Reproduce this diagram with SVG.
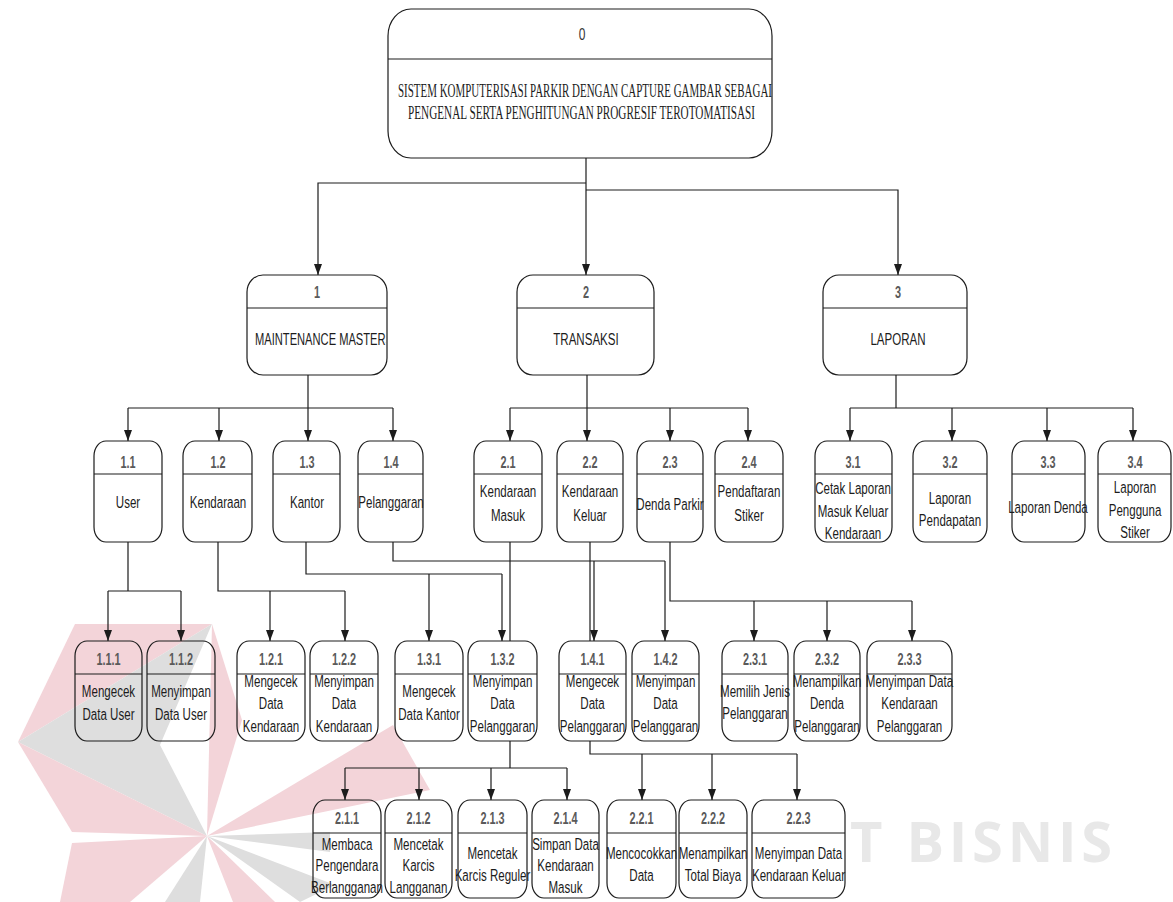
<svg xmlns="http://www.w3.org/2000/svg" width="1173" height="902" viewBox="0 0 1173 902">
  <defs>
    <style>
      .box{fill:none;stroke:#1c1c1c;stroke-width:1.2}
      .div{stroke:#1c1c1c;stroke-width:1.2}
      .ln{fill:none;stroke:#1c1c1c;stroke-width:1.2}
      .ar{fill:none;stroke:#1c1c1c;stroke-width:1.2;marker-end:url(#ah)}
      .num{font-family:"Liberation Sans",Arial,sans-serif;font-size:16px;font-weight:bold;fill:#5a5a5a;text-anchor:middle}
      .lbl{font-family:"Liberation Sans",Arial,sans-serif;font-size:17px;fill:#1c1c1c;text-anchor:middle}
      .ttl{font-family:"Liberation Serif","Times New Roman",serif;font-size:18px;fill:#1c1c1c}
      .zero{font-family:"Liberation Sans",Arial,sans-serif;font-size:16px;fill:#333;text-anchor:middle}
      .pk{fill:#f3d4d9}
      .gy{fill:#dedede}
    </style>
    <marker id="ah" viewBox="0 0 11 8" refX="11" refY="4" markerWidth="11" markerHeight="8" markerUnits="userSpaceOnUse" orient="auto">
      <path d="M0,0 L11,4 L0,8 z" fill="#1c1c1c"/>
    </marker>
    <clipPath id="clip1"><rect x="248" y="276" width="138" height="98"/></clipPath>
  </defs>

  <rect width="1173" height="902" fill="#ffffff"/>

  <!-- background watermark logo -->
  <g id="watermark">
    <polygon class="pk" points="75,624 212,624 18,742"/>
    <polygon class="gy" points="212,624 18,742 207,836 160,745"/>
    <polygon class="pk" points="212,624 242,720 207,836"/>
    <polygon class="pk" points="207,836 393,725 430,790"/>
    <polygon class="gy" points="207,836 330,832 330,852"/>
    <polygon class="pk" points="18,742 207,836 72,832"/>
    <polygon class="pk" points="72,843 207,836 130,902 60,902"/>
    <polygon class="gy" points="207,836 165,902 200,902"/>
    <polygon class="pk" points="207,836 233,902 275,902"/>
    <polygon class="gy" points="207,836 300,902 335,885"/>
    <text x="850" y="862" textLength="262" font-family="'Open Sans','Liberation Sans',sans-serif" font-size="56" font-weight="bold" fill="#e8e8e8">T BISNIS</text>
  </g>

  <!-- connectors -->
  <g id="connectors">
    <path class="ar" d="M586,158 V275"/>
    <path class="ar" d="M586,183 H318 V275"/>
    <path class="ar" d="M586,190 H898 V275"/>

    <path class="ln" d="M308,375 V408"/>
    <path class="ln" d="M128,408 H393"/>
    <path class="ar" d="M128,408 V441"/>
    <path class="ar" d="M219,408 V441"/>
    <path class="ar" d="M308,408 V441"/>
    <path class="ar" d="M393,408 V441"/>

    <path class="ar" d="M587,375 V441"/>
    <path class="ln" d="M510,408 H748"/>
    <path class="ar" d="M510,408 V441"/>
    <path class="ar" d="M670,408 V441"/>
    <path class="ar" d="M748,408 V441"/>

    <path class="ln" d="M896,375 V408"/>
    <path class="ln" d="M850,408 H1133"/>
    <path class="ar" d="M850,408 V441"/>
    <path class="ar" d="M952,408 V441"/>
    <path class="ar" d="M1047,408 V441"/>
    <path class="ar" d="M1133,408 V441"/>

    <path class="ln" d="M128,542 V591 M108,591 H181"/>
    <path class="ar" d="M108,591 V641"/>
    <path class="ar" d="M181,591 V641"/>

    <path class="ln" d="M218,542 V591 H345"/>
    <path class="ar" d="M270,591 V641"/>
    <path class="ar" d="M345,591 V641"/>

    <path class="ln" d="M306,542 V574 H502"/>
    <path class="ar" d="M429,574 V641"/>
    <path class="ar" d="M502,574 V641"/>

    <path class="ln" d="M393,542 V561 H665"/>
    <path class="ar" d="M594,561 V641"/>
    <path class="ar" d="M665,561 V641"/>

    <path class="ln" d="M510,542 V641 M510,741 V768 M345,768 H567"/>
    <path class="ar" d="M345,768 V800"/>
    <path class="ar" d="M419,768 V800"/>
    <path class="ar" d="M491,768 V800"/>
    <path class="ar" d="M567,768 V800"/>

    <path class="ln" d="M590,542 V641 M590,741 V754 H797"/>
    <path class="ar" d="M642,754 V800"/>
    <path class="ar" d="M712,754 V800"/>
    <path class="ar" d="M797,754 V800"/>

    <path class="ln" d="M670,542 V601 H912"/>
    <path class="ar" d="M754,601 V641"/>
    <path class="ar" d="M827,601 V641"/>
    <path class="ar" d="M912,601 V641"/>
  </g>

  <!-- level 0 -->
  <g id="node-0">
    <rect class="box" x="388" y="9" width="384" height="149" rx="23" ry="27"/>
    <line class="div" x1="388" y1="59" x2="772" y2="59"/>
    <g transform="translate(582 0) scale(.75 1)"><text class="zero" x="0" y="40">0</text></g>
    <text class="ttl" x="398" y="97" textLength="374" lengthAdjust="spacingAndGlyphs">SISTEM KOMPUTERISASI PARKIR DENGAN CAPTURE GAMBAR SEBAGAI</text>
    <text class="ttl" x="408" y="119" textLength="347" lengthAdjust="spacingAndGlyphs">PENGENAL SERTA PENGHITUNGAN PROGRESIF TEROTOMATISASI</text>
  </g>

  <!-- level 1 -->
  <g id="node-1">
    <rect class="box" x="247" y="275" width="140" height="100" rx="16" ry="17"/>
    <line class="div" x1="247" y1="308" x2="387" y2="308"/>
    <g transform="translate(317 0) scale(.68 1)"><text class="num" x="0" y="298">1</text></g>
    <text class="lbl" x="255" y="345" style="text-anchor:start" textLength="138" lengthAdjust="spacingAndGlyphs" clip-path="url(#clip1)">MAINTENANCE MASTERS</text>
  </g>
  <g id="node-2">
    <rect class="box" x="517" y="275" width="137" height="100" rx="16" ry="17"/>
    <line class="div" x1="517" y1="308" x2="654" y2="308"/>
    <g transform="translate(586 0) scale(.68 1)"><text class="num" x="0" y="298">2</text><text class="lbl" x="0" y="345">TRANSAKSI</text></g>
  </g>
  <g id="node-3">
    <rect class="box" x="823" y="275" width="144" height="100" rx="16" ry="17"/>
    <line class="div" x1="823" y1="308" x2="967" y2="308"/>
    <g transform="translate(898 0) scale(.68 1)"><text class="num" x="0" y="298">3</text><text class="lbl" x="0" y="345">LAPORAN</text></g>
  </g>

  <!-- level 2 -->
  <g id="node-1-1">
    <rect class="box" x="94" y="441" width="68" height="101" rx="12" ry="15"/>
    <line class="div" x1="94" y1="474" x2="162" y2="474"/>
    <g transform="translate(128 0) scale(.68 1)"><text class="num" x="0" y="468">1.1</text><text class="lbl" x="0" y="508">User</text></g>
  </g>
  <g id="node-1-2">
    <rect class="box" x="183" y="441" width="69" height="101" rx="12" ry="15"/>
    <line class="div" x1="183" y1="474" x2="252" y2="474"/>
    <g transform="translate(218 0) scale(.68 1)"><text class="num" x="0" y="468">1.2</text><text class="lbl" x="0" y="508">Kendaraan</text></g>
  </g>
  <g id="node-1-3">
    <rect class="box" x="273" y="441" width="67" height="101" rx="12" ry="15"/>
    <line class="div" x1="273" y1="474" x2="340" y2="474"/>
    <g transform="translate(307 0) scale(.68 1)"><text class="num" x="0" y="468">1.3</text><text class="lbl" x="0" y="508">Kantor</text></g>
  </g>
  <g id="node-1-4">
    <rect class="box" x="358" y="441" width="65" height="101" rx="12" ry="15"/>
    <line class="div" x1="358" y1="474" x2="423" y2="474"/>
    <g transform="translate(391 0) scale(.68 1)"><text class="num" x="0" y="468">1.4</text><text class="lbl" x="0" y="508">Pelanggaran</text></g>
  </g>
  <g id="node-2-1">
    <rect class="box" x="474" y="441" width="68" height="101" rx="12" ry="15"/>
    <line class="div" x1="474" y1="474" x2="542" y2="474"/>
    <g transform="translate(508 0) scale(.68 1)"><text class="num" x="0" y="468">2.1</text><text class="lbl" x="0" y="497">Kendaraan</text><text class="lbl" x="0" y="521">Masuk</text></g>
  </g>
  <g id="node-2-2">
    <rect class="box" x="557" y="441" width="66" height="101" rx="12" ry="15"/>
    <line class="div" x1="557" y1="474" x2="623" y2="474"/>
    <g transform="translate(590 0) scale(.68 1)"><text class="num" x="0" y="468">2.2</text><text class="lbl" x="0" y="497">Kendaraan</text><text class="lbl" x="0" y="521">Keluar</text></g>
  </g>
  <g id="node-2-3">
    <rect class="box" x="637" y="441" width="66" height="101" rx="12" ry="15"/>
    <line class="div" x1="637" y1="474" x2="703" y2="474"/>
    <g transform="translate(670 0) scale(.68 1)"><text class="num" x="0" y="468">2.3</text><text class="lbl" x="0" y="510">Denda Parkir</text></g>
  </g>
  <g id="node-2-4">
    <rect class="box" x="715" y="441" width="68" height="101" rx="12" ry="15"/>
    <line class="div" x1="715" y1="474" x2="783" y2="474"/>
    <g transform="translate(749 0) scale(.68 1)"><text class="num" x="0" y="468">2.4</text><text class="lbl" x="0" y="497">Pendaftaran</text><text class="lbl" x="0" y="521">Stiker</text></g>
  </g>
  <g id="node-3-1">
    <rect class="box" x="815" y="441" width="77" height="101" rx="12" ry="15"/>
    <line class="div" x1="815" y1="474" x2="892" y2="474"/>
    <g transform="translate(853 0) scale(.68 1)"><text class="num" x="0" y="468">3.1</text><text class="lbl" x="0" y="494">Cetak Laporan</text><text class="lbl" x="0" y="517">Masuk Keluar</text><text class="lbl" x="0" y="539">Kendaraan</text></g>
  </g>
  <g id="node-3-2">
    <rect class="box" x="913" y="441" width="74" height="101" rx="12" ry="15"/>
    <line class="div" x1="913" y1="474" x2="987" y2="474"/>
    <g transform="translate(950 0) scale(.68 1)"><text class="num" x="0" y="468">3.2</text><text class="lbl" x="0" y="504">Laporan</text><text class="lbl" x="0" y="526">Pendapatan</text></g>
  </g>
  <g id="node-3-3">
    <rect class="box" x="1012" y="441" width="73" height="101" rx="12" ry="15"/>
    <line class="div" x1="1012" y1="474" x2="1085" y2="474"/>
    <g transform="translate(1048 0) scale(.68 1)"><text class="num" x="0" y="468">3.3</text><text class="lbl" x="0" y="513">Laporan Denda</text></g>
  </g>
  <g id="node-3-4">
    <rect class="box" x="1098" y="441" width="73" height="101" rx="12" ry="15"/>
    <line class="div" x1="1098" y1="474" x2="1171" y2="474"/>
    <g transform="translate(1135 0) scale(.68 1)"><text class="num" x="0" y="468">3.4</text><text class="lbl" x="0" y="493">Laporan</text><text class="lbl" x="0" y="516">Pengguna</text><text class="lbl" x="0" y="538">Stiker</text></g>
  </g>

  <!-- level 3 -->
  <g id="node-1-1-1">
    <rect class="box" x="75" y="641" width="67" height="100" rx="12" ry="15"/>
    <line class="div" x1="75" y1="674" x2="142" y2="674"/>
    <g transform="translate(108.5 0) scale(.68 1)"><text class="num" x="0" y="665">1.1.1</text><text class="lbl" x="0" y="697">Mengecek</text><text class="lbl" x="0" y="720">Data User</text></g>
  </g>
  <g id="node-1-1-2">
    <rect class="box" x="147" y="641" width="68" height="100" rx="12" ry="15"/>
    <line class="div" x1="147" y1="674" x2="215" y2="674"/>
    <g transform="translate(181 0) scale(.68 1)"><text class="num" x="0" y="665">1.1.2</text><text class="lbl" x="0" y="697">Menyimpan</text><text class="lbl" x="0" y="720">Data User</text></g>
  </g>
  <g id="node-1-2-1">
    <rect class="box" x="237" y="641" width="68" height="100" rx="12" ry="15"/>
    <line class="div" x1="237" y1="674" x2="305" y2="674"/>
    <g transform="translate(271 0) scale(.68 1)"><text class="num" x="0" y="665">1.2.1</text><text class="lbl" x="0" y="687">Mengecek</text><text class="lbl" x="0" y="709">Data</text><text class="lbl" x="0" y="732">Kendaraan</text></g>
  </g>
  <g id="node-1-2-2">
    <rect class="box" x="310" y="641" width="68" height="100" rx="12" ry="15"/>
    <line class="div" x1="310" y1="674" x2="378" y2="674"/>
    <g transform="translate(344 0) scale(.68 1)"><text class="num" x="0" y="665">1.2.2</text><text class="lbl" x="0" y="687">Menyimpan</text><text class="lbl" x="0" y="709">Data</text><text class="lbl" x="0" y="732">Kendaraan</text></g>
  </g>
  <g id="node-1-3-1">
    <rect class="box" x="395" y="641" width="68" height="100" rx="12" ry="15"/>
    <line class="div" x1="395" y1="674" x2="463" y2="674"/>
    <g transform="translate(429 0) scale(.68 1)"><text class="num" x="0" y="665">1.3.1</text><text class="lbl" x="0" y="697">Mengecek</text><text class="lbl" x="0" y="720">Data Kantor</text></g>
  </g>
  <g id="node-1-3-2">
    <rect class="box" x="468" y="641" width="69" height="100" rx="12" ry="15"/>
    <line class="div" x1="468" y1="674" x2="537" y2="674"/>
    <g transform="translate(502.5 0) scale(.68 1)"><text class="num" x="0" y="665">1.3.2</text><text class="lbl" x="0" y="687">Menyimpan</text><text class="lbl" x="0" y="709">Data</text><text class="lbl" x="0" y="732">Pelanggaran</text></g>
  </g>
  <g id="node-1-4-1">
    <rect class="box" x="559" y="641" width="67" height="100" rx="12" ry="15"/>
    <line class="div" x1="559" y1="674" x2="626" y2="674"/>
    <g transform="translate(592.5 0) scale(.68 1)"><text class="num" x="0" y="665">1.4.1</text><text class="lbl" x="0" y="687">Mengecek</text><text class="lbl" x="0" y="709">Data</text><text class="lbl" x="0" y="732">Pelanggaran</text></g>
  </g>
  <g id="node-1-4-2">
    <rect class="box" x="632" y="641" width="67" height="100" rx="12" ry="15"/>
    <line class="div" x1="632" y1="674" x2="699" y2="674"/>
    <g transform="translate(665.5 0) scale(.68 1)"><text class="num" x="0" y="665">1.4.2</text><text class="lbl" x="0" y="687">Menyimpan</text><text class="lbl" x="0" y="709">Data</text><text class="lbl" x="0" y="732">Pelanggaran</text></g>
  </g>
  <g id="node-2-3-1">
    <rect class="box" x="722" y="641" width="66" height="100" rx="12" ry="15"/>
    <line class="div" x1="722" y1="674" x2="788" y2="674"/>
    <g transform="translate(755 0) scale(.68 1)"><text class="num" x="0" y="665">2.3.1</text><text class="lbl" x="0" y="697">Memilih Jenis</text><text class="lbl" x="0" y="719">Pelanggaran</text></g>
  </g>
  <g id="node-2-3-2">
    <rect class="box" x="794" y="641" width="66" height="100" rx="12" ry="15"/>
    <line class="div" x1="794" y1="674" x2="860" y2="674"/>
    <g transform="translate(827 0) scale(.68 1)"><text class="num" x="0" y="665">2.3.2</text><text class="lbl" x="0" y="687">Menampilkan</text><text class="lbl" x="0" y="709">Denda</text><text class="lbl" x="0" y="732">Pelanggaran</text></g>
  </g>
  <g id="node-2-3-3">
    <rect class="box" x="867" y="641" width="85" height="100" rx="12" ry="15"/>
    <line class="div" x1="867" y1="674" x2="952" y2="674"/>
    <g transform="translate(909.5 0) scale(.68 1)"><text class="num" x="0" y="665">2.3.3</text><text class="lbl" x="0" y="687">Menyimpan Data</text><text class="lbl" x="0" y="709">Kendaraan</text><text class="lbl" x="0" y="732">Pelanggaran</text></g>
  </g>

  <!-- level 4 -->
  <g id="node-2-1-1">
    <rect class="box" x="313" y="800" width="68" height="98" rx="12" ry="15"/>
    <line class="div" x1="313" y1="833" x2="381" y2="833"/>
    <g transform="translate(347 0) scale(.68 1)"><text class="num" x="0" y="824">2.1.1</text><text class="lbl" x="0" y="850">Membaca</text><text class="lbl" x="0" y="871">Pengendara</text><text class="lbl" x="0" y="893">Berlangganan</text></g>
  </g>
  <g id="node-2-1-2">
    <rect class="box" x="385" y="800" width="67" height="98" rx="12" ry="15"/>
    <line class="div" x1="385" y1="833" x2="452" y2="833"/>
    <g transform="translate(418.5 0) scale(.68 1)"><text class="num" x="0" y="824">2.1.2</text><text class="lbl" x="0" y="850">Mencetak</text><text class="lbl" x="0" y="871">Karcis</text><text class="lbl" x="0" y="893">Langganan</text></g>
  </g>
  <g id="node-2-1-3">
    <rect class="box" x="458" y="800" width="69" height="98" rx="12" ry="15"/>
    <line class="div" x1="458" y1="833" x2="527" y2="833"/>
    <g transform="translate(492.5 0) scale(.68 1)"><text class="num" x="0" y="824">2.1.3</text><text class="lbl" x="0" y="859">Mencetak</text><text class="lbl" x="0" y="881">Karcis Reguler</text></g>
  </g>
  <g id="node-2-1-4">
    <rect class="box" x="532" y="800" width="67" height="98" rx="12" ry="15"/>
    <line class="div" x1="532" y1="833" x2="599" y2="833"/>
    <g transform="translate(565.5 0) scale(.68 1)"><text class="num" x="0" y="824">2.1.4</text><text class="lbl" x="0" y="850">Simpan Data</text><text class="lbl" x="0" y="871">Kendaraan</text><text class="lbl" x="0" y="893">Masuk</text></g>
  </g>
  <g id="node-2-2-1">
    <rect class="box" x="607" y="800" width="69" height="98" rx="12" ry="15"/>
    <line class="div" x1="607" y1="833" x2="676" y2="833"/>
    <g transform="translate(641.5 0) scale(.68 1)"><text class="num" x="0" y="824">2.2.1</text><text class="lbl" x="0" y="859">Mencocokkan</text><text class="lbl" x="0" y="881">Data</text></g>
  </g>
  <g id="node-2-2-2">
    <rect class="box" x="679" y="800" width="68" height="98" rx="12" ry="15"/>
    <line class="div" x1="679" y1="833" x2="747" y2="833"/>
    <g transform="translate(713 0) scale(.68 1)"><text class="num" x="0" y="824">2.2.2</text><text class="lbl" x="0" y="859">Menampilkan</text><text class="lbl" x="0" y="881">Total Biaya</text></g>
  </g>
  <g id="node-2-2-3">
    <rect class="box" x="752" y="800" width="93" height="98" rx="12" ry="15"/>
    <line class="div" x1="752" y1="833" x2="845" y2="833"/>
    <g transform="translate(798.5 0) scale(.68 1)"><text class="num" x="0" y="824">2.2.3</text><text class="lbl" x="0" y="859">Menyimpan Data</text><text class="lbl" x="0" y="881">Kendaraan Keluar</text></g>
  </g>
</svg>
